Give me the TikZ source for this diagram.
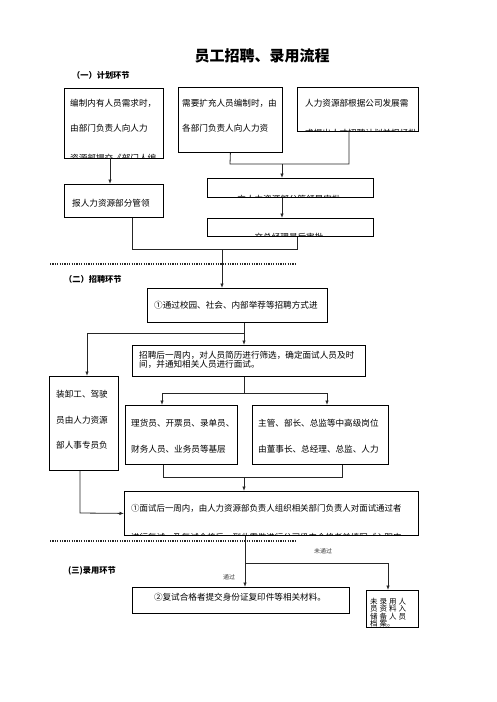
\documentclass[tikz,border=0pt]{standalone}
\usepackage{fontspec}
\setmainfont{Noto Sans CJK SC}
\usetikzlibrary{arrows.meta}
\newcommand{\gp}{\hspace{2pt}}
\tikzset{
  box/.style={draw=black, line width=0.8pt, inner sep=0pt, anchor=north west},
  t/.style={font=\fontsize{8.6}{10}\selectfont, inner sep=0pt, anchor=west},
  conn/.style={draw=black!85, line width=0.8pt},
  arr/.style={conn, -{Latex[length=4.5pt,width=3.5pt]}},
  dotline/.style={draw=black!85, line width=1.3pt, dash pattern=on 1.1pt off 1.3pt},
  sec/.style={font=\bfseries\fontsize{8.2}{10}\selectfont, inner sep=0pt, anchor=west},
  lbl/.style={font=\fontsize{6}{7}\selectfont, inner sep=0pt, text=black!75}
}
\begin{document}
\begin{tikzpicture}[x=1pt,y=-1pt]
\useasboundingbox (0,0) rectangle (496,702);

% title and section labels
\node[font=\bfseries\fontsize{15}{17}\selectfont, inner sep=0pt] (title) at (262,56) {员工招聘、录用流程};
\node[sec] (s1) at (72,75) {（一）计划环节};
\node[sec] (s2) at (64,279) {（二）招聘环节};
\node[sec] (s3) at (68,571) {(三)录用环节};

% dotted separators
\coordinate (d1a) at (50,264); \coordinate (d1b) at (297,264);
\coordinate (d2a) at (50,541); \coordinate (d2b) at (297,541);
\draw[dotline] (d1a) -- (d1b);
\draw[dotline] (d2a) -- (d2b);

% boxes
\node[box, minimum width=99pt, minimum height=70pt] (b1) at (64,88) {};
\node[box, minimum width=104pt, minimum height=65pt] (b2) at (178,87) {};
\node[box, minimum width=121pt, minimum height=44pt] (b3) at (297,87) {};
\node[box, minimum width=99pt, minimum height=33pt] (b1b) at (64,184) {};
\node[box, minimum width=166pt, minimum height=19pt] (b4) at (207,178) {};
\node[box, minimum width=166pt, minimum height=18pt] (b5) at (207,218) {};
\node[box, minimum width=180pt, minimum height=34pt] (b6) at (147,288) {};
\node[box, minimum width=233pt, minimum height=31pt] (b7) at (132,345) {};
\node[box, minimum width=69pt, minimum height=94pt] (b8) at (49,376) {};
\node[box, minimum width=112pt, minimum height=59pt] (b9) at (125,405) {};
\node[box, minimum width=136pt, minimum height=59pt] (b10) at (252,405) {};
\node[box, minimum width=294pt, minimum height=44pt] (b11) at (124,491) {};
\node[box, minimum width=217pt, minimum height=26pt] (b12) at (132,587) {};
\node[box, minimum width=52pt, minimum height=37pt] (b13) at (366,590) {};

% box texts (clipped to their boxes)
\begin{scope}
\clip (b1.north west) rectangle (b1.south east);
\node[t] (b1t1) at (70,103) {编制内有人员需求时，};
\node[t] (b1t2) at (70,128) {由部门负责人向人力};
\node[t] (b1t3) at (70,158.5) {资源部提交《部门人编};
\end{scope}
\begin{scope}
\clip (b2.north west) rectangle (b2.south east);
\node[t] (b2t1) at (182,103) {需要扩充人员编制时，由};
\node[t] (b2t2) at (182,128) {各部门负责人向人力资};
\end{scope}
\begin{scope}
\clip (b3.north west) rectangle (b3.south east);
\node[t] (b3t1) at (305,103) {人力资源部根据公司发展需};
\node[t] (b3t2) at (305,133.5) {求提出人才招聘计划并报经批};
\end{scope}
\node[t] (b1bt) at (72,203.5) {报人力资源部分管领};
\begin{scope}
\clip (b4.north west) rectangle (b4.south east);
\node[t, anchor=center] (b4t) at (289,199) {交人力资源部分管领导审批};
\end{scope}
\begin{scope}
\clip (b5.north west) rectangle (b5.south east);
\node[t, anchor=center] (b5t) at (289,237.5) {交总经理最后审批};
\end{scope}
\node[t] (b6t) at (154,305.5) {①通过校园、社会、内部举荐等招聘方式进};
\node[t, anchor=north west, align=left, font=\fontsize{8.6}{8.6}\selectfont] (b7t) at (139,351.5) {招聘后一周内，对人员简历进行筛选，确定面试人员及时\\间，并通知相关人员进行面试。};
\begin{scope}
\clip (b8.north west) rectangle (b8.south east);
\node[t] (b8t1) at (56,394.5) {装卸工、驾驶};
\node[t] (b8t2) at (56,420) {员由人力资源};
\node[t] (b8t3) at (56,445.5) {部人事专员负};
\node[t] (b8t4) at (56,476) {责面试并确定};
\end{scope}
\node[t] (b9t1) at (131,423.5) {理货员、开票员、录单员、};
\node[t] (b9t2) at (131,449.5) {财务人员、业务员等基层};
\node[t] (b10t1) at (258,423.5) {主管、部长、总监等中高级岗位};
\node[t] (b10t2) at (258,449.5) {由董事长、总经理、总监、人力};
\begin{scope}
\clip (b11.north west) rectangle (b11.south east);
\node[t, font=\fontsize{8.45}{10}\selectfont] (b11t1) at (131,508) {①面试后一周内，由人力资源部负责人组织相关部门负责人对面试通过者};
\node[t, font=\fontsize{8.45}{10}\selectfont] (b11t2) at (131,537.5) {进行复试，及复试合格后，到此需做进行公司级内合格者并填写《入职申};
\end{scope}
\node[t, anchor=center] (b12t) at (240,597.5) {②复试合格者提交身份证复印件等相关材料。};
\node[inner sep=0pt, anchor=north west, align=left, font=\fontsize{7.5}{7.6}\selectfont] (b13t) at (370,597.5) {未\gp 录\gp 用\gp 人\\员\gp 资\gp 料\gp 入\\储\gp 备\gp 人\gp 员\\档\gp 案。};

% planning connectors
\coordinate (j0) at (110,158);
\draw[arr] (j0) -- (j0 |- b1b.north);
\coordinate (b3s) at (349,131);
\coordinate (j1a) at (230,164);
\coordinate (j1) at (282,164);
\coordinate (j1b) at (349,164);
\draw[conn] (b2.south) -- (j1a) -- (j1b) -- (b3s);
\draw[arr] (j1) -- (j1 |- b4.north);
\draw[arr] (j1 |- b4.south) -- (j1 |- b5.north);
\coordinate (j2a) at (132,249);
\coordinate (j2) at (222,249);
\coordinate (j2b) at (297,249);
\draw[conn] (j2a |- b1b.south) -- (j2a) -- (j2b) -- (j2b |- b5.south);
\draw[arr] (j2) -- (j2 |- b6.north);

% recruiting connectors
\coordinate (j3) at (244,333);
\coordinate (j3l) at (87,333);
\draw[conn] (j3 |- b6.south) -- (j3);
\draw[arr] (j3) -- (j3 |- b7.north);
\draw[arr] (j3) -- (j3l) -- (j3l |- b8.north);
\coordinate (j4) at (244,393);
\coordinate (j4l) at (162,393);
\coordinate (j4r) at (327,393);
\draw[conn] (j4 |- b7.south) -- (j4);
\draw[arr] (j4) -- (j4l) -- (j4l |- b9.north);
\draw[arr] (j4) -- (j4r) -- (j4r |- b10.north);
\coordinate (j5l) at (163,477);
\coordinate (j5) at (244,477);
\coordinate (j5r) at (342,477);
\draw[conn] (j5l |- b9.south) -- (j5l) -- (j5r) -- (j5r |- b10.south);
\draw[arr] (j5) -- (j5 |- b11.north);
\coordinate (j6) at (80,513);
\draw[arr] (j6 |- b8.south) -- (j6) -- (b11.west);

% hiring connectors
\coordinate (j7) at (245,563);
\coordinate (j7r) at (388,563);
\draw[arr] (j7 |- b11.south) -- (j7 |- b12.north);
\draw[arr] (j7) -- (j7r) -- (j7r |- b13.north);
\node[lbl] (l1) at (323,551) {未通过};
\node[lbl] (l2) at (229,577) {通过};
\end{tikzpicture}
\end{document}
